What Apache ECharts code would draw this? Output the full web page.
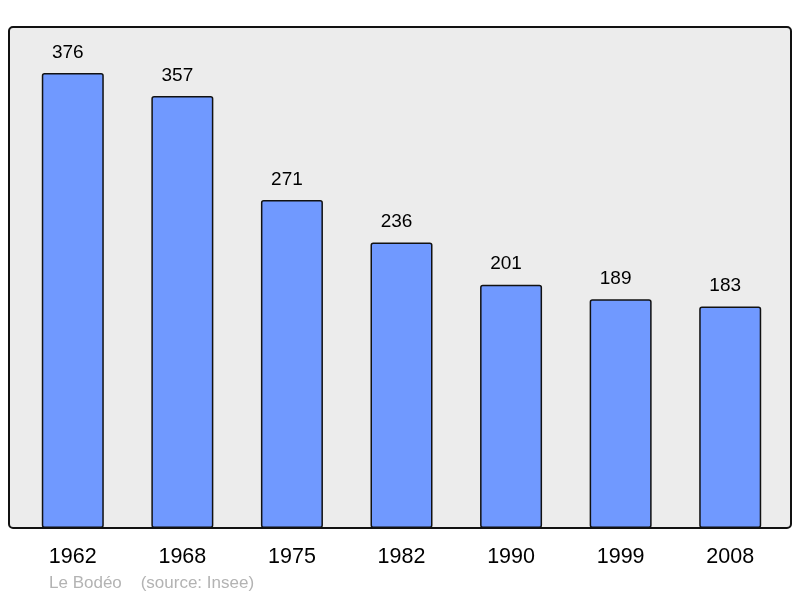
<!DOCTYPE html>
<html><head><meta charset="utf-8">
<script src="https://cdn.jsdelivr.net/npm/echarts@6/dist/echarts.min.js"></script>
<style>html,body{margin:0;padding:0;background:#fff}#c{width:800px;height:598px}</style>
</head><body><div id="c"></div>
<script>
var categories = ['1962','1968','1975','1982','1990','1999','2008'];
var population = [376,357,271,236,201,189,183];
var footerText = 'Le Bodéo    (source: Insee)';

var chart = echarts.init(document.getElementById('c'), null, {renderer:'canvas'});
chart.setOption({
  animation:false,
  textStyle:{fontFamily:'Liberation Sans, Arial, sans-serif'},
  graphic:[
    {type:'rect', z:-10, shape:{x:9,y:27,width:782,height:501,r:4},
     style:{fill:'#ececec',stroke:'#111',lineWidth:2}},
    {type:'text', left:49, top:575, style:{text:footerText, fill:'#b3b3b3', fontSize:17, fontFamily:'Liberation Sans, Arial, sans-serif'}}
  ],
  grid:{left:18, right:15, top:27, bottom:70},
  xAxis:{type:'category', data:categories,
    axisLine:{show:false}, axisTick:{show:false},
    axisLabel:{color:'#000', fontSize:21.5, margin:18}},
  yAxis:{type:'value', min:0, max:414, show:false, splitLine:{show:false}},
  series:[{type:'bar', data:population, barWidth:62,
    itemStyle:{color:'#7099ff', borderColor:'#111', borderWidth:1.5, borderRadius:2},
    label:{show:true, position:'top', distance:11, offset:[-5,0], color:'#000', fontSize:19}}]
});
</script></body></html>
